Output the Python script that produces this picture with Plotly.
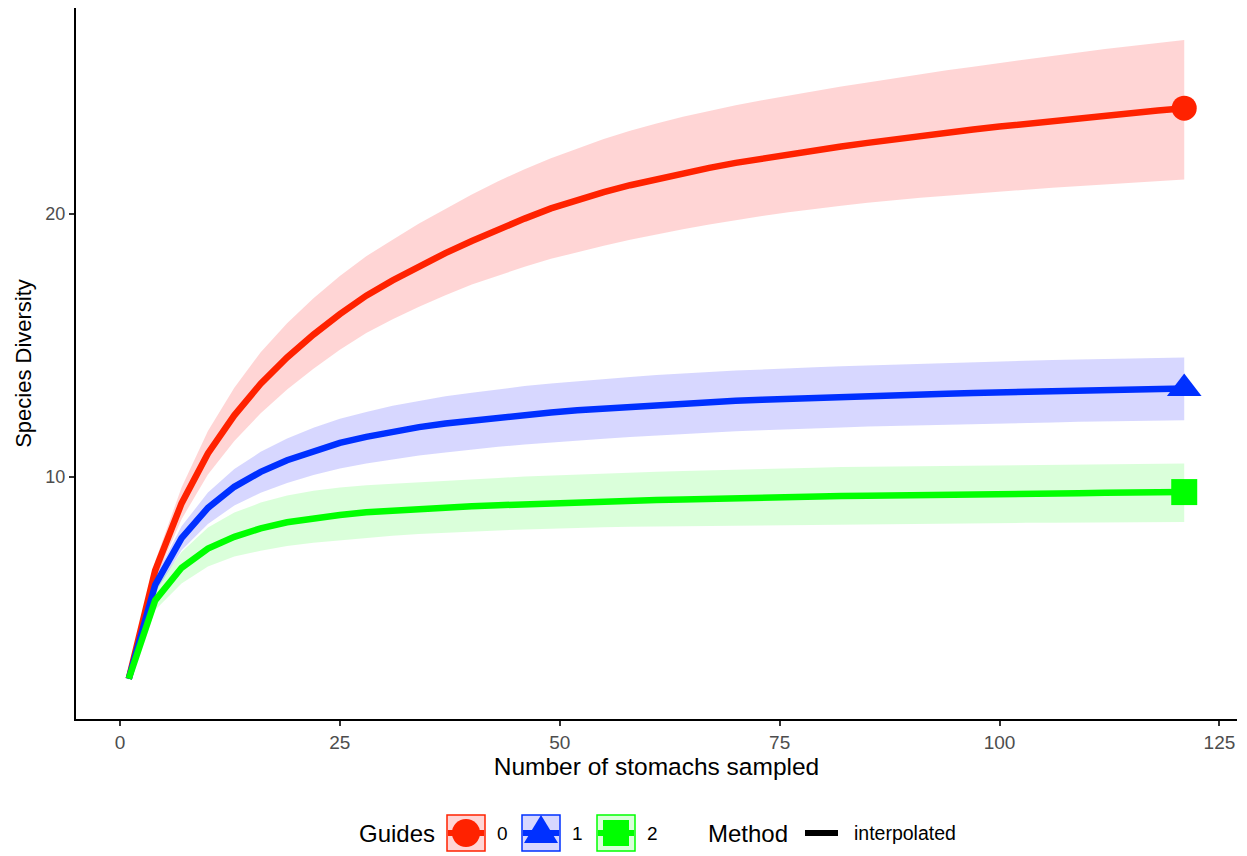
import plotly.graph_objects as go

# ---- data ----
x_knots = [1, 4, 7, 10, 13, 16, 19, 22, 25, 28, 31, 34, 37, 40, 43, 46, 49, 52, 55, 58,
           61, 64, 67, 70, 73, 76, 79, 82, 85, 88, 91, 94, 97, 100, 103, 106, 109, 112,
           115, 118, 121]

red_mid = [2.33, 6.45, 9.0, 10.9, 12.35, 13.55, 14.55, 15.42, 16.2, 16.9, 17.48, 18.02,
           18.52, 18.98, 19.42, 19.83, 20.22, 20.55, 20.84, 21.1, 21.34, 21.56, 21.76, 21.95,
           22.12, 22.28, 22.43, 22.57, 22.71, 22.85, 22.98, 23.1, 23.22, 23.33, 23.44, 23.55,
           23.65, 23.75, 23.85, 23.94, 24.03]
red_hi = [2.38, 6.8, 9.6, 11.75, 13.4, 14.75, 15.85, 16.8, 17.65, 18.4, 19.03, 19.64,
          20.2, 20.75, 21.25, 21.71, 22.13, 22.51, 22.86, 23.17, 23.45, 23.7, 23.93, 24.14,
          24.33, 24.51, 24.68, 24.85, 25.01, 25.17, 25.32, 25.47, 25.61, 25.75, 25.89, 26.02,
          26.15, 26.28, 26.4, 26.51, 26.62]
red_lo = [2.28, 6.1, 8.4, 10.1, 11.37, 12.43, 13.33, 14.12, 14.84, 15.48, 16.0, 16.48,
          16.92, 17.32, 17.67, 18.0, 18.3, 18.56, 18.8, 19.03, 19.24, 19.43, 19.61, 19.78,
          19.93, 20.07, 20.2, 20.32, 20.43, 20.53, 20.62, 20.7, 20.78, 20.86, 20.93, 21.0,
          21.07, 21.13, 21.2, 21.26, 21.32]

blue_mid = [2.33, 5.9, 7.68, 8.83, 9.63, 10.2, 10.64, 11.0, 11.3, 11.53, 11.73, 11.9,
            12.04, 12.16, 12.27, 12.37, 12.46, 12.54, 12.61, 12.68, 12.74, 12.8, 12.85, 12.9,
            12.94, 12.98, 13.02, 13.05, 13.08, 13.11, 13.14, 13.17, 13.2, 13.22, 13.25, 13.27,
            13.29, 13.31, 13.33, 13.35, 13.37]
blue_hi = [2.38, 6.2, 8.13, 9.41, 10.31, 10.96, 11.47, 11.88, 12.22, 12.48, 12.71, 12.9,
           13.07, 13.21, 13.34, 13.46, 13.56, 13.65, 13.73, 13.81, 13.88, 13.95, 14.0, 14.05,
           14.1, 14.14, 14.18, 14.22, 14.25, 14.28, 14.32, 14.35, 14.38, 14.4, 14.43, 14.45,
           14.47, 14.49, 14.51, 14.53, 14.55]
blue_lo = [2.28, 5.6, 7.22, 8.22, 8.92, 9.4, 9.78, 10.08, 10.33, 10.52, 10.68, 10.82,
           10.94, 11.05, 11.15, 11.24, 11.32, 11.39, 11.46, 11.52, 11.58, 11.64, 11.69, 11.74,
           11.78, 11.82, 11.86, 11.89, 11.92, 11.95, 11.97, 12.0, 12.02, 12.04, 12.06, 12.08,
           12.1, 12.12, 12.14, 12.15, 12.16]

green_mid = [2.33, 5.31, 6.55, 7.28, 7.73, 8.05, 8.28, 8.44, 8.56, 8.66, 8.73, 8.79,
             8.85, 8.89, 8.93, 8.97, 9.01, 9.04, 9.07, 9.1, 9.13, 9.15, 9.18, 9.2,
             9.22, 9.24, 9.26, 9.28, 9.29, 9.31, 9.32, 9.33, 9.35, 9.36, 9.37, 9.38,
             9.39, 9.4, 9.41, 9.42, 9.43]
green_hi = [2.4, 5.75, 7.15, 8.08, 8.65, 9.03, 9.3, 9.48, 9.6, 9.69, 9.75, 9.81,
            9.87, 9.92, 9.97, 10.02, 10.06, 10.1, 10.13, 10.16, 10.2, 10.23, 10.26, 10.29,
            10.31, 10.34, 10.36, 10.38, 10.39, 10.41, 10.42, 10.43, 10.45, 10.46, 10.47, 10.48,
            10.49, 10.5, 10.5, 10.51, 10.52]
green_lo = [2.26, 4.95, 5.95, 6.6, 6.98, 7.2, 7.38, 7.5, 7.6, 7.68, 7.77, 7.84,
            7.89, 7.93, 7.97, 8.01, 8.04, 8.07, 8.09, 8.11, 8.13, 8.15, 8.16, 8.17,
            8.18, 8.19, 8.2, 8.21, 8.21, 8.22, 8.23, 8.24, 8.24, 8.25, 8.26, 8.26,
            8.27, 8.27, 8.28, 8.28, 8.29]

guides = ["0", "1", "2"]
x_ticks = [0, 25, 50, 75, 100, 125]
y_ticks = [10, 20]

# ---- styles ----
FONT = "Liberation Sans, Arial, sans-serif"
line_cols = {"0": "rgb(255,34,0)", "1": "rgb(0,48,255)", "2": "rgb(0,255,0)"}
band_cols = {"0": "rgba(255,30,30,0.19)", "1": "rgba(20,20,255,0.17)", "2": "rgba(0,255,0,0.145)"}
symbols = {"0": "circle", "1": "triangle-up", "2": "square"}
msizes = {"0": 25, "1": 30, "2": 26}

series = {
    "0": (red_mid, red_lo, red_hi),
    "1": (blue_mid, blue_lo, blue_hi),
    "2": (green_mid, green_lo, green_hi),
}

fig = go.Figure()

# ribbons
for g in guides:
    mid, lo, hi = series[g]
    fig.add_trace(go.Scatter(
        x=x_knots + x_knots[::-1], y=hi + lo[::-1],
        fill="toself", fillcolor=band_cols[g], line=dict(width=0),
        mode="lines", showlegend=False, hoverinfo="skip"))
# lines
for g in guides:
    mid, lo, hi = series[g]
    fig.add_trace(go.Scatter(
        x=x_knots, y=mid, mode="lines",
        line=dict(color=line_cols[g], width=6.5), showlegend=False))
# end points (observed)
for g in guides:
    mid, lo, hi = series[g]
    fig.add_trace(go.Scatter(
        x=[x_knots[-1]], y=[mid[-1]], mode="markers",
        marker=dict(symbol=symbols[g], size=msizes[g], color=line_cols[g], line=dict(width=0)),
        showlegend=False))

# ---- custom legend (ggplot-style bottom guide) ----
L, R, T, B = 76, 1237, 8, 719
def PX(p):
    return (p - L) / (R - L)
def PY(p):
    return (B - p) / (B - T)

shapes = []
annotations = []
ly = 833
annotations.append(dict(x=PX(357), y=PY(ly), xref="paper", yref="paper", text="Guides",
                        showarrow=False, xanchor="left", yanchor="middle",
                        font=dict(size=24, color="black", family=FONT)))
box_left = {"0": 447, "1": 522, "2": 597}
for g in guides:
    bx = box_left[g]
    col = line_cols[g]
    shapes.append(dict(type="rect", xref="paper", yref="paper",
                       x0=PX(bx), x1=PX(bx + 38), y0=PY(ly + 18), y1=PY(ly - 18),
                       fillcolor=band_cols[g], line=dict(color=col, width=1.5)))
    shapes.append(dict(type="line", xref="paper", yref="paper",
                       x0=PX(bx + 1), x1=PX(bx + 37), y0=PY(ly), y1=PY(ly),
                       line=dict(color=col, width=6)))
    cx = bx + 19
    if g == "0":
        shapes.append(dict(type="circle", xref="paper", yref="paper",
                           x0=PX(cx - 14), x1=PX(cx + 14), y0=PY(ly + 14), y1=PY(ly - 14),
                           fillcolor=col, line=dict(width=0)))
    elif g == "1":
        path = "M {a},{b} L {c},{d} L {e},{f} Z".format(
            a=PX(cx - 17), b=PY(ly + 10), c=PX(cx + 17), d=PY(ly + 10),
            e=PX(cx), f=PY(ly - 18))
        shapes.append(dict(type="path", xref="paper", yref="paper", path=path,
                           fillcolor=col, line=dict(width=0)))
    else:
        shapes.append(dict(type="rect", xref="paper", yref="paper",
                           x0=PX(cx - 13), x1=PX(cx + 13), y0=PY(ly + 13), y1=PY(ly - 13),
                           fillcolor=col, line=dict(width=0)))
    annotations.append(dict(x=PX(bx + 55), y=PY(ly), xref="paper", yref="paper", text=g,
                            showarrow=False, xanchor="center", yanchor="middle",
                            font=dict(size=19, color="black", family=FONT)))

annotations.append(dict(x=PX(706), y=PY(ly), xref="paper", yref="paper", text="Method",
                        showarrow=False, xanchor="left", yanchor="middle",
                        font=dict(size=24, color="black", family=FONT)))
shapes.append(dict(type="line", xref="paper", yref="paper",
                   x0=PX(805), x1=PX(838), y0=PY(ly), y1=PY(ly),
                   line=dict(color="black", width=6)))
annotations.append(dict(x=PX(852), y=PY(ly), xref="paper", yref="paper", text="interpolated",
                        showarrow=False, xanchor="left", yanchor="middle",
                        font=dict(size=19.5, color="black", family=FONT)))

fig.update_layout(
    width=1247, height=856,
    margin=dict(l=L, r=1247 - R, t=T, b=856 - B),
    paper_bgcolor="white", plot_bgcolor="white",
    font=dict(family=FONT, color="black"),
    showlegend=False,
    shapes=shapes, annotations=annotations,
    xaxis=dict(range=[-5, 127], tickvals=x_ticks, ticks="outside", ticklen=5, tickwidth=1.5,
               tickcolor="#333333", showline=True, linecolor="black", linewidth=2,
               showgrid=False, zeroline=False,
               tickfont=dict(size=19, color="#4D4D4D", family=FONT),
               title=dict(text="Number of stomachs sampled", standoff=4,
                          font=dict(size=24.5, color="black", family=FONT))),
    yaxis=dict(range=[0.8, 27.84], tickvals=y_ticks, ticks="outside", ticklen=5, tickwidth=1.5,
               tickcolor="#333333", showline=True, linecolor="black", linewidth=2,
               showgrid=False, zeroline=False,
               tickfont=dict(size=18, color="#4D4D4D", family=FONT),
               title=dict(text="Species Diversity", standoff=8,
                          font=dict(size=22, color="black", family=FONT))),
)

fig.write_html("out.html")
